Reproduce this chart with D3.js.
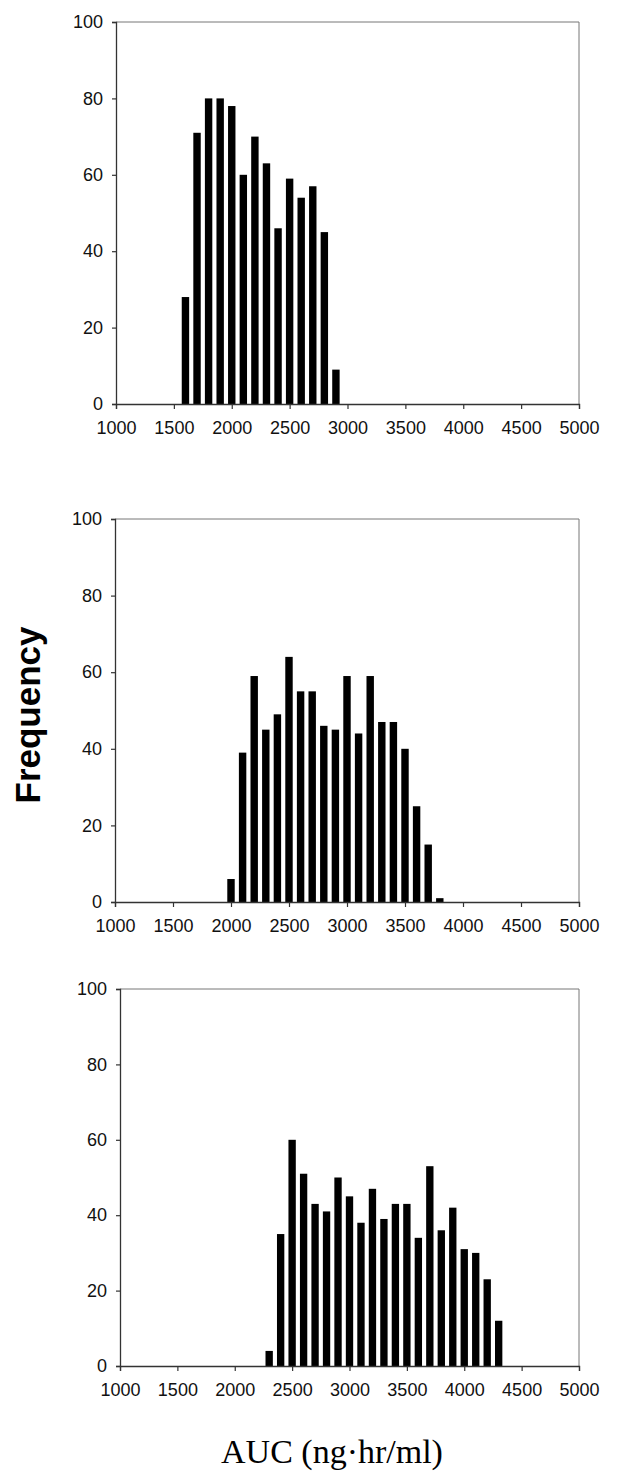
<!DOCTYPE html>
<html>
<head>
<meta charset="utf-8">
<script src="https://cdn.jsdelivr.net/npm/d3@7"></script>
<style>
  body { margin: 0; background: #fff; }
  .tick text { font-family: "Liberation Sans", Arial, sans-serif; font-size: 18px; fill: #111; }
</style>
</head>
<body>
<svg id="viz" width="633" height="1475"></svg>
<script>
// bin centres (AUC, ng·hr/ml) and counts for each panel
const auc1 = [1600, 1700, 1800, 1900, 2000, 2100, 2200, 2300, 2400, 2500, 2600, 2700, 2800, 2900];
const freq1 = [28, 71, 80, 80, 78, 60, 70, 63, 46, 59, 54, 57, 45, 9];

const auc2 = [2000, 2100, 2200, 2300, 2400, 2500, 2600, 2700, 2800, 2900, 3000, 3100, 3200, 3300, 3400, 3500, 3600, 3700, 3800];
const freq2 = [6, 39, 59, 45, 49, 64, 55, 55, 46, 45, 59, 44, 59, 47, 47, 40, 25, 15, 1];

const auc3 = [2300, 2400, 2500, 2600, 2700, 2800, 2900, 3000, 3100, 3200, 3300, 3400, 3500, 3600, 3700, 3800, 3900, 4000, 4100, 4200, 4300];
const freq3 = [4, 35, 60, 51, 43, 41, 50, 45, 38, 47, 39, 43, 43, 34, 53, 36, 42, 31, 30, 23, 12];

const xTicks = [1000, 1500, 2000, 2500, 3000, 3500, 4000, 4500, 5000];
const yTicks = [0, 20, 40, 60, 80, 100];
const binWidth = 100;

let svg = d3.select("#viz");

let panels = [
    { auc: auc1, freq: freq1, left: 116, right: 579, top: 22, bottom: 404 },
    { auc: auc2, freq: freq2, left: 115, right: 579, top: 519, bottom: 902 },
    { auc: auc3, freq: freq3, left: 120, right: 579, top: 989, bottom: 1366 }
];

panels.forEach(p => {
    let x = d3.scaleLinear().domain([1000, 5000]).range([p.left, p.right]);
    let y = d3.scaleLinear().domain([0, 100]).range([p.bottom, p.top]);
    let g = svg.append("g");

    // top and right frame lines
    g.append("path")
        .attr("d", `M${p.left},${p.top}H${p.right}V${p.bottom}`)
        .attr("fill", "none")
        .attr("stroke", "#777")
        .attr("stroke-width", 1);

    let bw = (x(1000 + binWidth) - x(1000)) * 0.64;
    g.selectAll("rect")
        .data(p.auc.map((a, i) => ({ a: a, f: p.freq[i] })))
        .join("rect")
        .attr("x", d => x(d.a) - bw / 2)
        .attr("width", bw)
        .attr("y", d => y(d.f))
        .attr("height", d => y(0) - y(d.f))
        .attr("fill", "#000");

    let xAxis = g.append("g")
        .attr("transform", `translate(0,${p.bottom})`)
        .call(d3.axisBottom(x).tickValues(xTicks).tickSize(5).tickPadding(12).tickFormat(d3.format("d")));
    let yAxis = g.append("g")
        .attr("transform", `translate(${p.left},0)`)
        .call(d3.axisLeft(y).tickValues(yTicks).tickSize(4).tickPadding(9));

    [xAxis, yAxis].forEach(a => {
        a.select(".domain").attr("stroke", "#333").attr("stroke-width", 1.3);
        a.selectAll(".tick line").attr("stroke", "#333").attr("stroke-width", 1.2);
    });
});

// shared axis titles
svg.append("text")
    .attr("transform", "translate(40,715) rotate(-90)")
    .attr("text-anchor", "middle")
    .style("font-family", "'Liberation Sans', Arial, sans-serif")
    .style("font-weight", "bold")
    .style("font-size", "35px")
    .text("Frequency");

svg.append("text")
    .attr("x", 332)
    .attr("y", 1463)
    .attr("text-anchor", "middle")
    .style("font-family", "'Liberation Serif', 'Times New Roman', serif")
    .style("font-size", "34px")
    .text("AUC (ng·hr/ml)");
</script>
</body>
</html>
